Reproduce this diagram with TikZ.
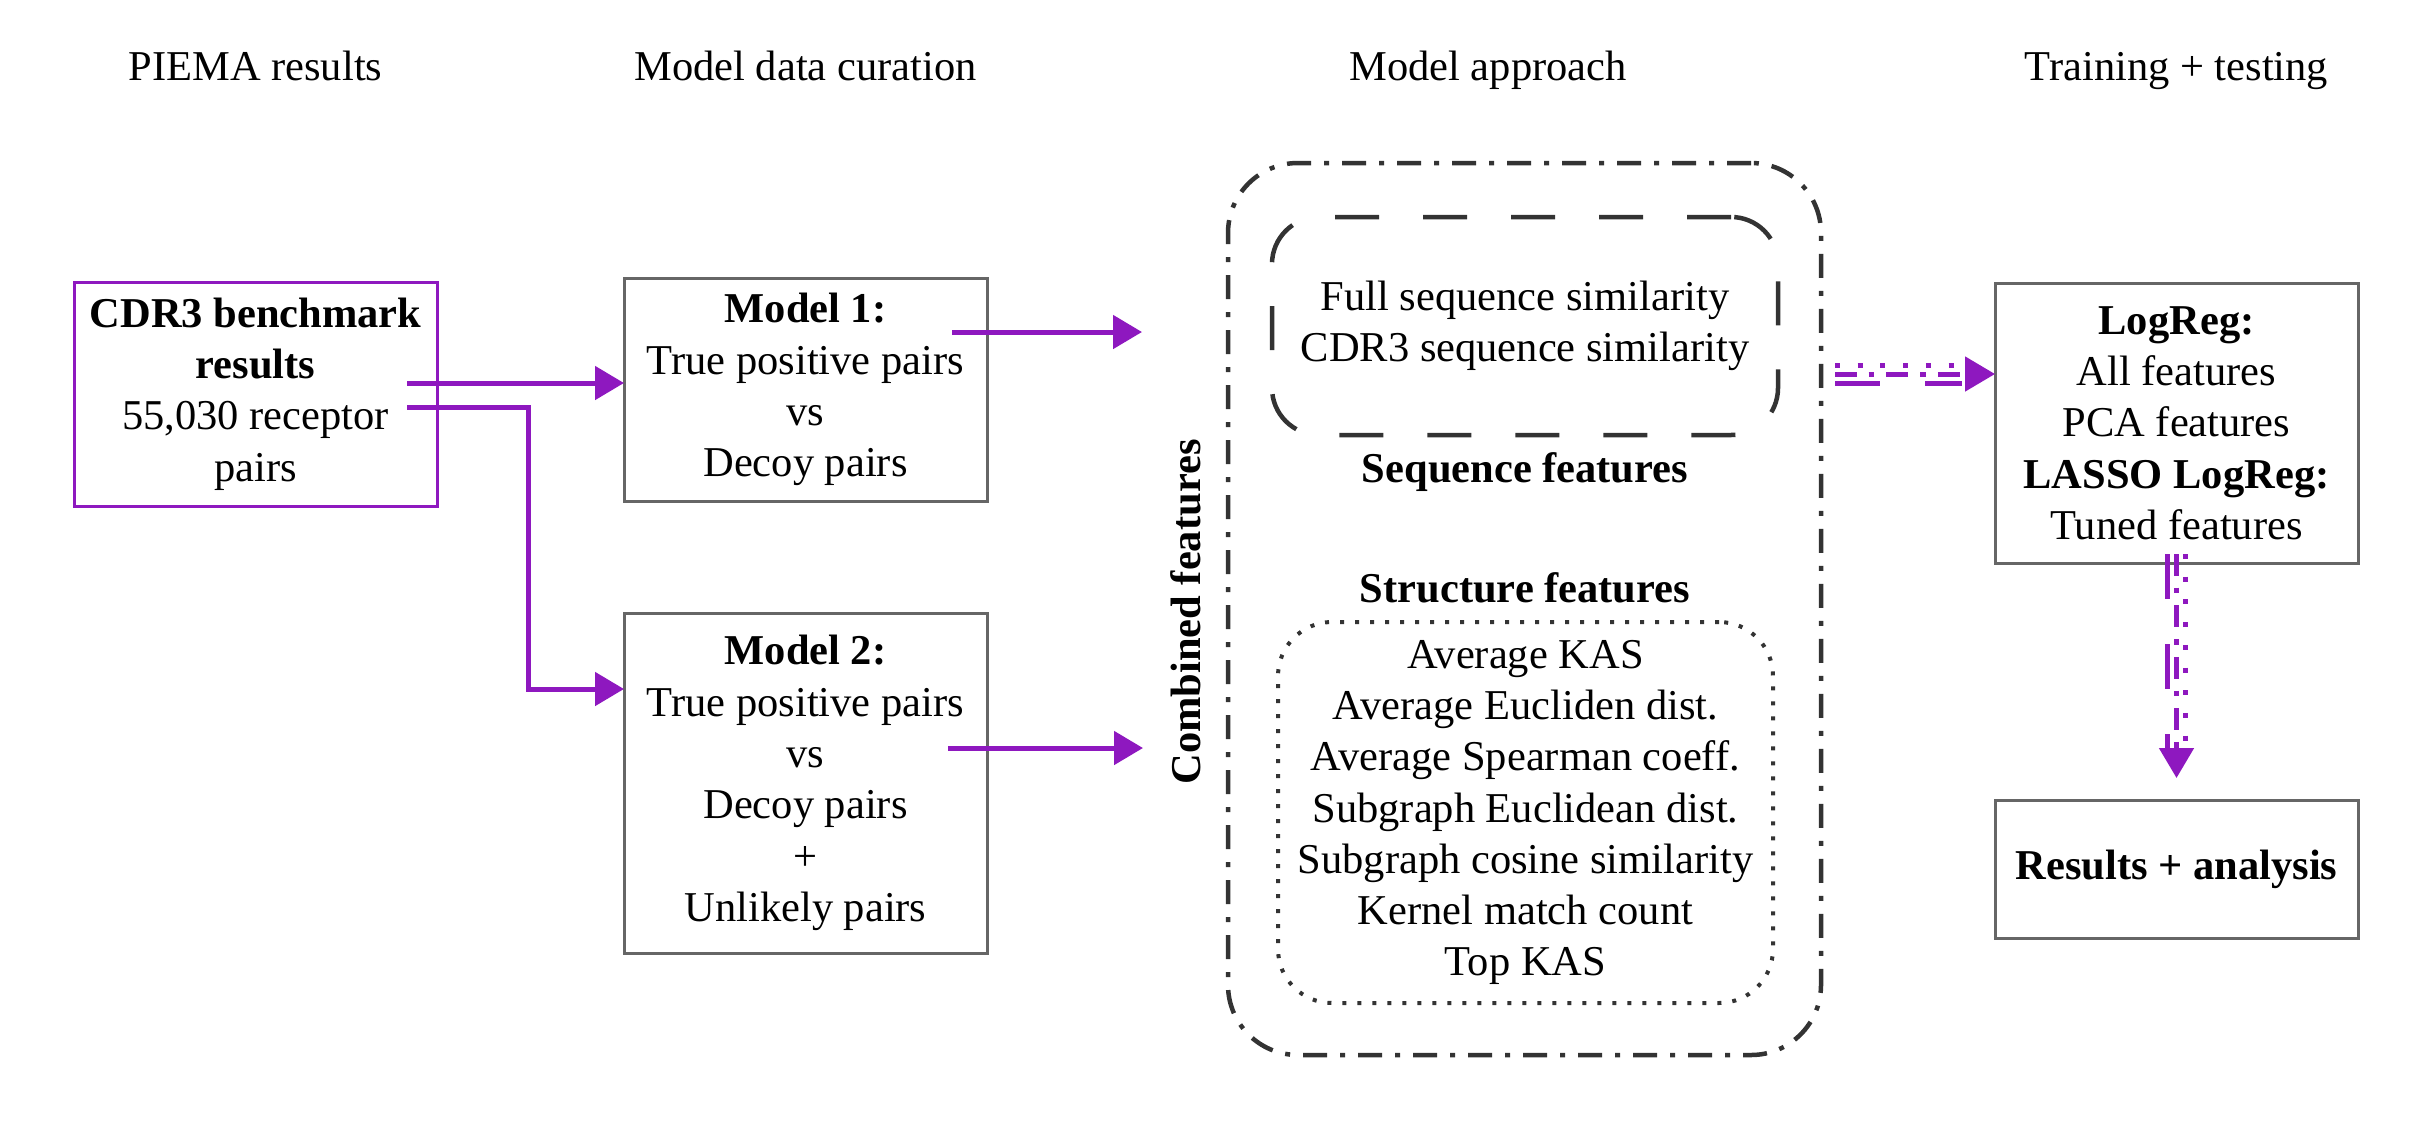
\documentclass[tikz,border=0pt]{standalone}
\usepackage{fontspec}
\setmainfont{Liberation Serif}
\usetikzlibrary{arrows.meta,calc}
\definecolor{purp}{RGB}{142,24,191}
\definecolor{boxgray}{RGB}{102,102,102}
\definecolor{darkline}{RGB}{51,51,51}
\begin{document}
\begin{tikzpicture}[x=1pt,y=-1pt,
  txt/.style={font=\fontsize{42.5pt}{51.3pt}\selectfont, align=center, inner sep=0pt, outer sep=0pt},
  hdr/.style={txt, anchor=base},
  gbox/.style={txt, draw=boxgray, line width=3pt, minimum width=363pt},
  parrow/.style={draw=purp, line width=5pt, -{Triangle[length=29pt,width=33pt]}},
  ptip/.style={-{Triangle[length=30pt,width=34pt]}},
  pline/.style={draw=purp, line width=5pt},
  dotpat/.style={dash pattern=on 5pt off 17.7pt},
  dashdotpat/.style={dash pattern=on 21.7pt off 12pt on 5.7pt off 12pt},
  longdashpat/.style={dash pattern=on 45pt off 45pt}]

\useasboundingbox (0,0) rectangle (2432,1120);

% column headers
\node[hdr] (h1) at (255.5,80) {PIEMA results};
\node[hdr] (h2) at (805.5,80) {Model data curation};
\node[hdr] (h3) at (1488,80) {Model approach};
\node[hdr] (h4) at (2176.5,80) {Training + testing};

% left column
\node[gbox, draw=purp, minimum height=224pt] (cdr) at (255.5,394)
  {\textbf{CDR3 benchmark}\\\textbf{results}\\55,030 receptor\\pairs};

% model boxes
\node[gbox, minimum height=223pt] (m1) at (805.5,389.5)
  {\textbf{Model 1:}\\True positive pairs\\vs\\Decoy pairs};
\node[gbox, minimum height=340pt] (m2) at (805.5,783)
  {\textbf{Model 2:}\\True positive pairs\\vs\\Decoy pairs\\+\\Unlikely pairs};

% model approach
\node[draw=darkline, line width=4.5pt, dash pattern=on 24pt off 13pt on 5pt off 13pt,
      rounded corners=70pt, minimum width=593pt, minimum height=892pt, inner sep=0pt, outer sep=0pt]
      (outer) at (1524.5,609) {};
\node[txt, draw=darkline, line width=4.5pt, dash pattern=on 44pt off 44pt, rounded corners=47pt,
      minimum width=506pt, minimum height=218pt] (seq) at (1525,326)
  {Full sequence similarity\\CDR3 sequence similarity};
\node[hdr] (seqlbl) at (1525,482) {\textbf{Sequence features}};
\node[hdr] (strlbl) at (1525,602) {\textbf{Structure features}};
\node[txt, draw=darkline, line width=4pt, dash pattern=on 4pt off 11pt, rounded corners=54pt,
      minimum width=495pt, minimum height=381pt] (str) at (1525.5,812.5)
  {Average KAS\\Average Eucliden dist.\\Average Spearman coeff.\\Subgraph Euclidean dist.\\Subgraph cosine similarity\\Kernel match count\\Top KAS};
\node[hdr, rotate=90] (comb) at (1200,612) {\textbf{Combined features}};

% training + testing
\node[gbox, minimum height=280pt] (lr) at (2176.5,423)
  {\textbf{LogReg:}\\All features\\PCA features\\\textbf{LASSO LogReg:}\\Tuned features};
\node[gbox, minimum height=138pt] (res) at (2176.5,869) {\textbf{Results + analysis}};

% purple solid arrows
\coordinate (a1s) at (407,383);
\draw[parrow] (a1s) -- (a1s -| m1.west);
\coordinate (a2s) at (407,407);
\coordinate (a2b) at (528,689);
\draw[parrow] (a2s) -| (a2b) -- (a2b -| m2.west);
\coordinate (a3s) at (952,332);
\coordinate (a3e) at (1142,332);
\draw[parrow] (a3s) -- (a3e);
\coordinate (a4s) at (948,748);
\coordinate (a4e) at (1143,748);
\draw[parrow] (a4s) -- (a4e);

% triple-line arrow: sequence/combined features -> LogReg
\coordinate (t1s) at (1835,374);
\coordinate (t1e) at ($(t1s -| lr.west)+(-33,0)$);
\draw[pline, dashdotpat, ptip] (t1s) -- (t1s -| lr.west);
\draw[pline, dotpat] ([yshift=9pt]t1s) -- ([yshift=9pt]t1e);
\draw[pline, longdashpat] ([yshift=-9pt]t1s) -- ([yshift=-9pt]t1e);

% triple-line arrow: LogReg -> results
\coordinate (v1s) at (2176.5,554);
\coordinate (v1e) at (2176.5,778);
\coordinate (v1m) at (2176.5,750);
\draw[pline, dashdotpat, ptip] (v1s) -- (v1e);
\draw[pline, dotpat] ([xshift=9pt]v1s) -- ([xshift=9pt]v1m);
\draw[pline, longdashpat] ([xshift=-9pt]v1s) -- ([xshift=-9pt]v1m);

\end{tikzpicture}
\end{document}
